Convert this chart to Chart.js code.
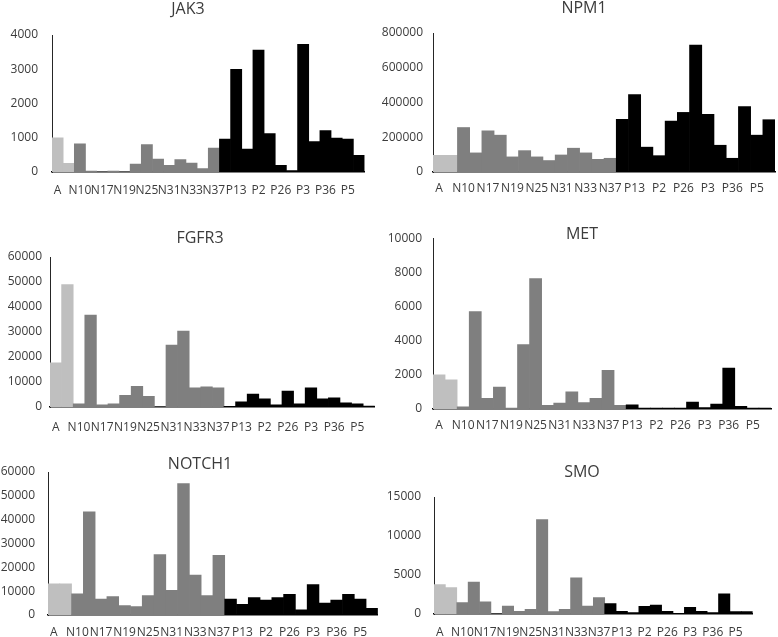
<!DOCTYPE html>
<html>
<head>
<meta charset="utf-8">
<title>Gene expression panels</title>
<script src="https://cdn.jsdelivr.net/npm/chart.js@4.4.0/dist/chart.umd.min.js"></script>
<style>
  body { margin: 0; background: #fff; overflow: hidden; width: 778px; height: 637px; position: relative; }
  canvas { position: absolute; }
</style>
</head>
<body>
<canvas id="jak3"></canvas>
<canvas id="npm1"></canvas>
<canvas id="fgfr3"></canvas>
<canvas id="met"></canvas>
<canvas id="notch1"></canvas>
<canvas id="smo"></canvas>
<script>
// every other sample is labelled on the x axis
const samples = ['A', '', 'N10', '', 'N17', '', 'N19', '', 'N25', '', 'N31', '', 'N33', '',
    'N37', '', 'P13', '', 'P2', '', 'P26', '', 'P3', '', 'P36', '', 'P5', ''];

const jak3 = [1000, 250, 820, 30, 10, 30, 10, 230, 800, 380, 195, 360, 260, 100,
    700, 960, 3000, 670, 3560, 1120, 195, 40, 3730, 890, 1210, 990, 960, 485];
const npm1 = [96000, 96000, 256000, 110000, 237000, 212000, 87000, 123000, 87000, 66000, 98000, 137000, 110000, 73000,
    79000, 303000, 445000, 143000, 94000, 293000, 343000, 731000, 332000, 154000, 79000, 376000, 212000, 301000];
const fgfr3 = [17700, 49000, 1300, 36800, 900, 1300, 4700, 8300, 4300, 100, 24800, 30400, 7700, 8100,
    7700, 300, 2100, 5200, 3300, 900, 6400, 1300, 7700, 3300, 3700, 1700, 1300, 400];
const met = [2000, 1710, 130, 5710, 630, 1280, 60, 3770, 7640, 210, 340, 1010, 380, 630,
    2270, 210, 250, 60, 50, 50, 50, 400, 90, 290, 2400, 150, 60, 50];
const notch1 = [13100, 13100, 8900, 43300, 6700, 7700, 4000, 3500, 8100, 25400, 10300, 55100, 16700, 8100,
    25000, 6700, 4500, 7300, 6300, 7300, 8700, 2200, 12800, 5000, 6300, 8700, 6700, 2800];
const smo = [3780, 3400, 1450, 4080, 1570, 30, 1020, 340, 600, 12100, 300, 600, 4630, 1020,
    2120, 1320, 340, 170, 980, 1150, 340, 30, 850, 340, 170, 2590, 300, 300];

const lightGray = '#bfbfbf';
const midGray = '#7f7f7f';
const textColor = '#3c3c3c';

Chart.defaults.font.family = '"Open Sans", sans-serif';

function drawPanel(id, title, values, p) {
    const canvas = document.getElementById(id);
    const x0 = p.left - 56;
    const y0 = Math.min(p.top, p.titleY) - 14;
    canvas.width = p.right - x0 + 2;
    canvas.height = p.bottom - y0 + 30;
    canvas.style.left = x0 + 'px';
    canvas.style.top = y0 + 'px';

    new Chart(canvas, {
        type: 'bar',
        data: {
            labels: samples,
            datasets: [{
                data: values,
                backgroundColor: values.map((v, i) => i < 2 ? lightGray : (i < p.grayEnd ? midGray : '#000')),
                barPercentage: 1,
                categoryPercentage: 1
            }]
        },
        options: {
            responsive: false,
            animation: false,
            layout: { padding: { top: p.top - y0, right: 2, left: 0, bottom: 0 } },
            plugins: {
                legend: { display: false },
                tooltip: { enabled: false }
            },
            scales: {
                x: {
                    grid: { display: false, drawTicks: false },
                    border: { color: '#000', width: 1.5 },
                    ticks: { autoSkip: false, maxRotation: 0, padding: p.xPad, color: textColor, font: { size: 12 } },
                    afterFit: s => { s.height = 30; }
                },
                y: {
                    min: 0,
                    max: p.max,
                    grid: { display: false, drawTicks: false },
                    border: { color: '#262626', width: 1 },
                    ticks: { stepSize: p.step, padding: p.yPad, color: textColor, font: { size: 12 }, callback: v => String(v) },
                    afterFit: s => { s.width = 56; }
                }
            }
        },
        plugins: [{
            id: 'panelTitle',
            afterDraw(chart) {
                const ctx = chart.ctx;
                ctx.save();
                ctx.font = '16px "Open Sans"';
                ctx.fillStyle = textColor;
                ctx.textAlign = 'center';
                ctx.textBaseline = 'middle';
                ctx.fillText(title, p.titleX - x0, p.titleY - y0);
                ctx.restore();
            }
        }]
    });
}

drawPanel('jak3', 'JAK3', jak3, { left: 52, right: 368, top: 35, bottom: 172, titleX: 188, titleY: 9, max: 4000, step: 1000, yPad: 14, xPad: 11, grayEnd: 15 });
drawPanel('npm1', 'NPM1', npm1, { left: 433, right: 776, top: 33, bottom: 172, titleX: 584, titleY: 8, max: 800000, step: 200000, yPad: 10, xPad: 9, grayEnd: 15 });
drawPanel('fgfr3', 'FGFR3', fgfr3, { left: 50, right: 380, top: 257, bottom: 407, titleX: 200, titleY: 238, max: 60000, step: 10000, yPad: 8, xPad: 13, grayEnd: 15 });
drawPanel('met', 'MET', met, { left: 433, right: 772, top: 234, bottom: 409, titleX: 582, titleY: 234, max: 10000, step: 2000, yPad: 11, xPad: 9, grayEnd: 16 });
drawPanel('notch1', 'NOTCH1', notch1, { left: 48, right: 380, top: 472, bottom: 615, titleX: 200, titleY: 464, max: 60000, step: 10000, yPad: 13, xPad: 10, grayEnd: 15 });
drawPanel('smo', 'SMO', smo, { left: 434, right: 756, top: 497, bottom: 614, titleX: 582, titleY: 472, max: 15000, step: 5000, yPad: 13, xPad: 11, grayEnd: 15 });
</script>
</body>
</html>
